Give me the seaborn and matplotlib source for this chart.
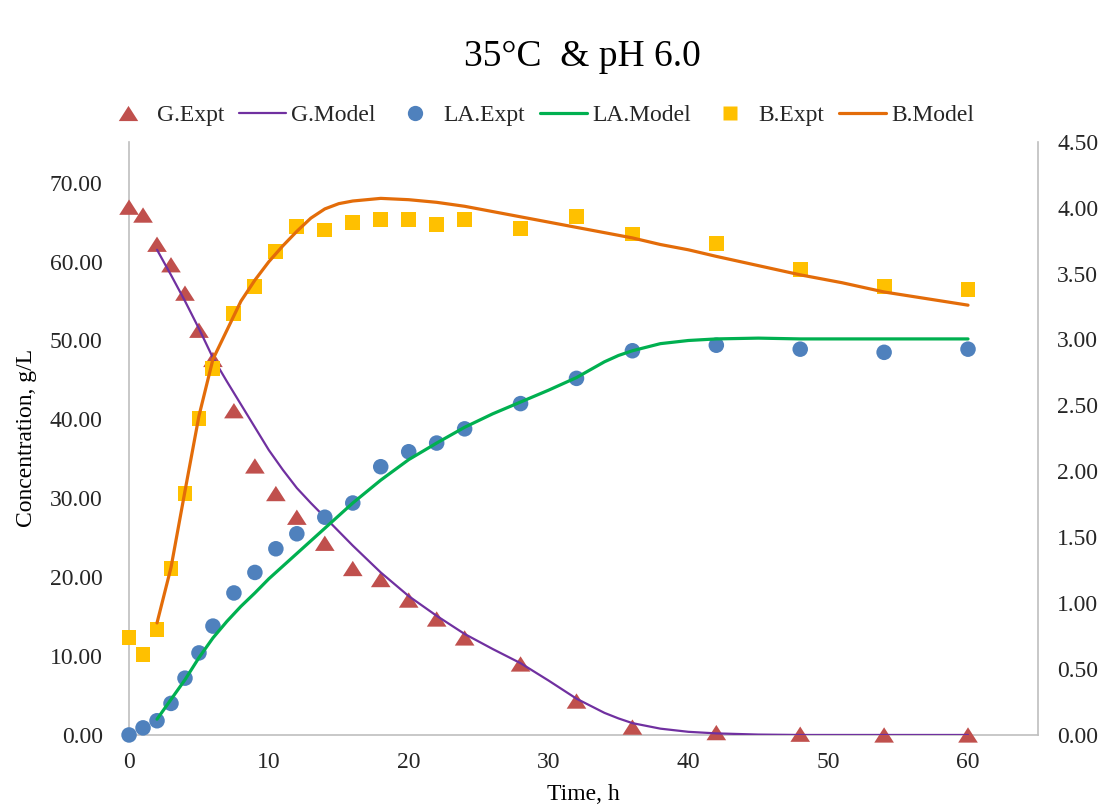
import matplotlib
matplotlib.use("Agg")
import matplotlib.pyplot as plt
from matplotlib.lines import Line2D
from matplotlib.ticker import FormatStrFormatter
import seaborn as sns

# ---------------- data ----------------
t_expt = [0, 1, 2, 3, 4, 5, 6, 7.5, 9, 10.5, 12, 14, 16, 18, 20, 22, 24, 28, 32, 36, 42, 48, 54, 60]
G_expt = [66.9, 65.9, 62.2, 59.6, 56.0, 51.3, 47.6, 41.1, 34.1, 30.6, 27.6, 24.3, 21.1, 19.7, 17.1, 14.7, 12.3,
          9.0, 4.3, 1.0, 0.3, 0.1, 0.0, 0.0]
LA_expt = [0.0, 0.9, 1.8, 4.0, 7.2, 10.4, 13.8, 18.0, 20.6, 23.6, 25.5, 27.6, 29.4, 34.0, 35.9, 37.0, 38.8,
           42.0, 45.2, 48.7, 49.4, 48.9, 48.5, 48.9]
B_expt = [0.74, 0.61, 0.80, 1.26, 1.83, 2.40, 2.78, 3.20, 3.40, 3.67, 3.86, 3.83, 3.89, 3.91, 3.91, 3.87, 3.91,
          3.84, 3.93, 3.80, 3.73, 3.53, 3.40, 3.38]

t_model = [2, 3, 4, 5, 6, 7, 8, 9, 10, 11, 12, 13, 14, 15, 16, 18, 20, 22, 24, 26, 28, 30, 32, 33, 34, 35, 36,
           38, 40, 42, 45, 48, 51, 54, 57, 60]
G_model = [61.5, 58.3, 55.0, 51.5, 47.8, 44.8, 41.9, 39.0, 36.1, 33.6, 31.3, 29.4, 27.6, 25.8, 24.0, 20.6, 17.6,
           15.1, 12.8, 10.9, 9.1, 6.9, 4.6, 3.7, 2.8, 2.1, 1.5, 0.8, 0.4, 0.2, 0.05, 0.0, 0.0, 0.0, 0.0, 0.0]
LA_model = [2.0, 4.5, 7.0, 9.8, 12.3, 14.4, 16.3, 18.0, 19.8, 21.4, 23.0, 24.6, 26.2, 27.8, 29.4, 32.3, 34.9,
            37.0, 39.0, 40.7, 42.2, 43.7, 45.3, 46.3, 47.3, 48.1, 48.7, 49.6, 50.0, 50.2, 50.3, 50.2, 50.2, 50.2,
            50.2, 50.2]
B_model = [0.85, 1.27, 1.85, 2.42, 2.85, 3.07, 3.29, 3.45, 3.59, 3.71, 3.82, 3.92, 3.99, 4.03, 4.05, 4.07, 4.06,
           4.04, 4.01, 3.97, 3.93, 3.89, 3.85, 3.83, 3.81, 3.79, 3.77, 3.72, 3.68, 3.63, 3.56, 3.49, 3.43, 3.36,
           3.31, 3.26]

labels = ["G.Expt", "G.Model", "LA.Expt", "LA.Model", "B.Expt", "B.Model"]
title = "35°C  & pH 6.0"
xlabel = "Time, h"
ylabel = "Concentration, g/L"

# ---------------- style ----------------
sns.set_theme(style="white")
plt.rcParams["font.family"] = ["Liberation Serif", "DejaVu Serif"]

c_tri = "#C0504D"
c_gmod = "#7030A0"
c_circ = "#4F81BD"
c_lamod = "#00B050"
c_sq = "#FFC000"
c_bmod = "#E36C09"
spine_c = "#BFBFBF"
txt_c = "#262626"
tri = [(-1, -0.78), (1, -0.78), (0, 0.78)]

fig = plt.figure(figsize=(11.03, 8.05), dpi=100)
ax = fig.add_axes([0.117, 0.087, 0.824, 0.737])
ax2 = ax.twinx()

# primary axis
sns.scatterplot(x=t_expt, y=G_expt, ax=ax, marker=tri, s=200, color=c_tri, edgecolor="none",
                clip_on=False, zorder=3)
sns.lineplot(x=t_model, y=G_model, ax=ax, color=c_gmod, lw=1.6, estimator=None, sort=False, zorder=4)
sns.scatterplot(x=t_expt, y=LA_expt, ax=ax, marker="o", s=125, color=c_circ, edgecolor="none",
                clip_on=False, zorder=5)
sns.lineplot(x=t_model, y=LA_model, ax=ax, color=c_lamod, lw=2.3, estimator=None, sort=False, zorder=6)

# secondary axis
sns.scatterplot(x=t_expt, y=B_expt, ax=ax2, marker="s", s=115, color=c_sq, edgecolor="none",
                clip_on=False, zorder=3)
sns.lineplot(x=t_model, y=B_model, ax=ax2, color=c_bmod, lw=2.3, estimator=None, sort=False, zorder=4)

ax.set_xlim(0, 65)
ax.set_ylim(0, 75.2)
ax2.set_ylim(0, 4.5)
ax.set_xticks([0, 10, 20, 30, 40, 50, 60])
ax.set_yticks([0, 10, 20, 30, 40, 50, 60, 70])
ax2.set_yticks([0, 0.5, 1, 1.5, 2, 2.5, 3, 3.5, 4, 4.5])
ax.yaxis.set_major_formatter(FormatStrFormatter("%.2f"))
ax2.yaxis.set_major_formatter(FormatStrFormatter("%.2f"))

for a in (ax, ax2):
    a.grid(False)
    a.spines["top"].set_visible(False)
ax.spines["right"].set_visible(False)
ax2.spines["left"].set_visible(False)
ax2.spines["bottom"].set_visible(False)
for s in ("left", "bottom"):
    ax.spines[s].set_color(spine_c)
    ax.spines[s].set_linewidth(1.2)
ax2.spines["right"].set_color(spine_c)
ax2.spines["right"].set_linewidth(1.2)

ax.tick_params(axis="y", length=0, pad=19, labelsize=17, labelcolor=txt_c)
ax.tick_params(axis="x", length=0, pad=12, labelsize=17, labelcolor=txt_c)
ax2.tick_params(axis="y", length=0, pad=14, labelsize=17, labelcolor=txt_c)

ax.set_xlabel(xlabel, fontsize=17, color="black", labelpad=8)
ax.set_ylabel(ylabel, fontsize=17, color="black", labelpad=9)
ax2.set_ylabel("")

fig.text(0.528, 0.929, title, ha="center", va="center", fontsize=27, color="black")

for a in (ax, ax2):
    lg = a.get_legend()
    if lg is not None:
        lg.remove()

handles = [
    Line2D([], [], ls="none", marker=tri, ms=14, color=c_tri, mec="none"),
    Line2D([], [], color=c_gmod, lw=1.6),
    Line2D([], [], ls="none", marker="o", ms=11, color=c_circ, mec="none"),
    Line2D([], [], color=c_lamod, lw=2.3),
    Line2D([], [], ls="none", marker="s", ms=10.5, color=c_sq, mec="none"),
    Line2D([], [], color=c_bmod, lw=2.3),
]
fig.legend(handles, labels, loc="center", bbox_to_anchor=(0.489, 0.857), ncol=6, frameon=False,
           fontsize=17, handlelength=2.0, handletextpad=0.2, columnspacing=0.65, borderpad=0.0)

fig.savefig("out.png", dpi=100, facecolor="white")
